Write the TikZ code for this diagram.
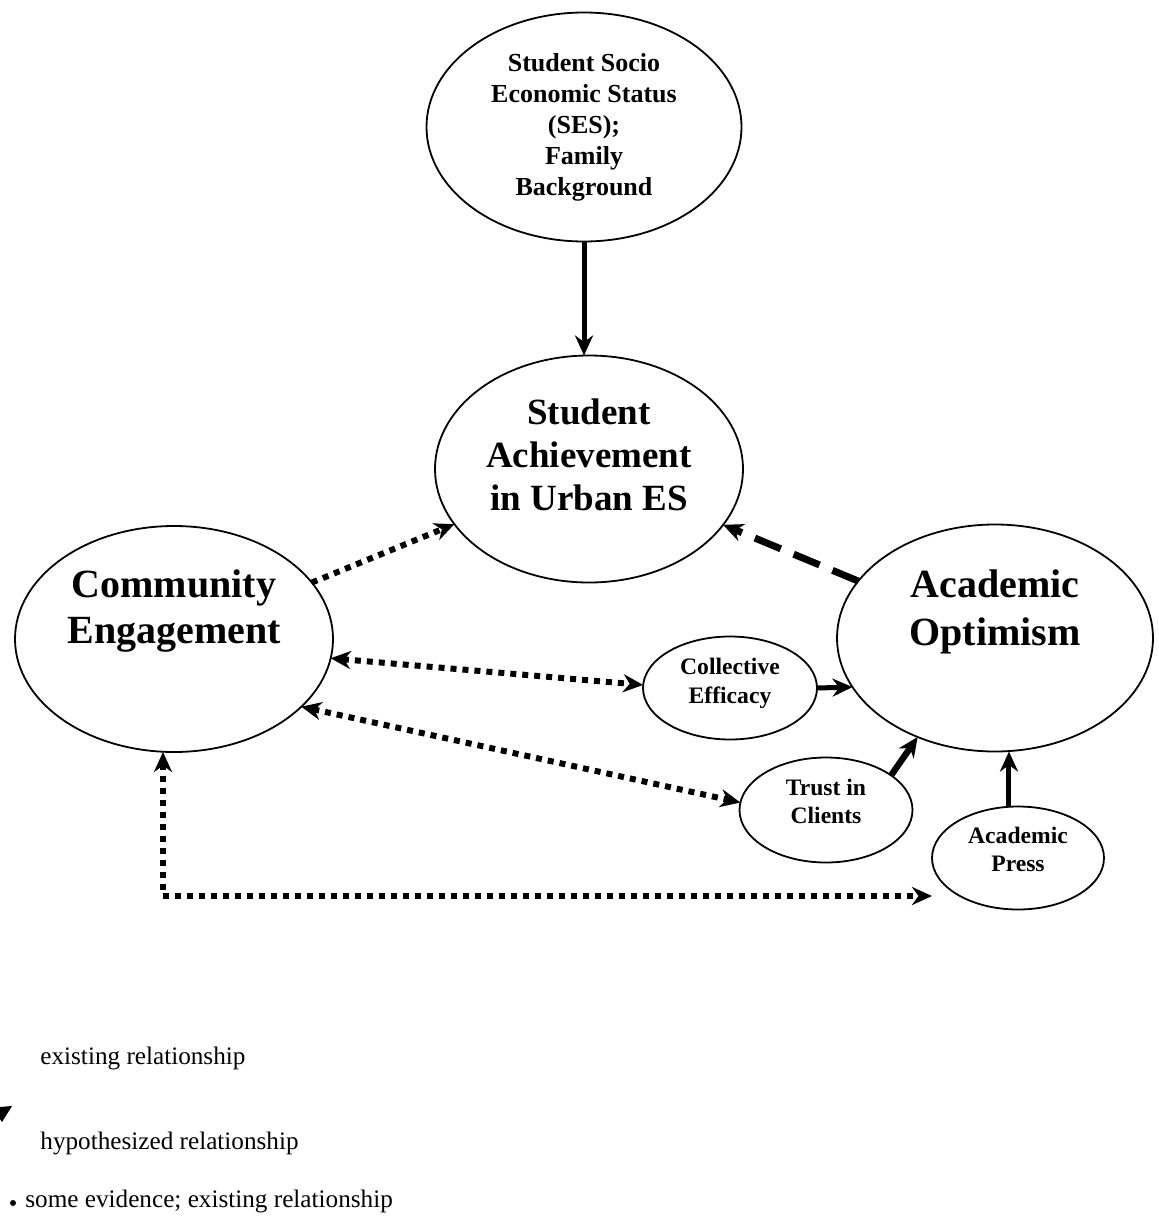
\documentclass[tikz,border=0pt]{standalone}
\usepackage{fontspec}
\setmainfont{Liberation Serif}
\usetikzlibrary{shapes.geometric,arrows.meta}
\tikzset{
  >={Stealth[length=10pt,width=9pt]},
  bubble/.style={ellipse,draw,line width=0.9pt,inner sep=0pt,outer sep=0pt,font=\bfseries},
  solidarrow/.style={->,line width=2.5pt},
  dotarrow/.style={line width=3pt,dash pattern=on 3pt off 3pt},
  dasharrow/.style={->,line width=3.5pt,dash pattern=on 14pt off 7pt},
}
\tikzstyle{legend}=[anchor=base west,inner sep=0pt,font=\fontsize{12.6}{14}\selectfont]
\newcommand{\liftup}[2]{\raisebox{#1}[\height][\depth]{\begin{tabular}{@{}c@{}}#2\end{tabular}}}
\begin{document}
\begin{tikzpicture}[x=0.5pt,y=-0.5pt]
  \useasboundingbox (0,0) rectangle (1158,1226);
  % the ellipses
  \node[bubble,minimum width=157.5pt,minimum height=114.5pt,
    font=\bfseries\fontsize{13}{15.5}\selectfont] (ses) at (584,127)
    {\liftup{0pt}{Student Socio\\Economic Status\\(SES);\\Family\\Background}};
  \node[bubble,minimum width=154pt,minimum height=113.5pt,
    font=\bfseries\fontsize{18.5}{21.5}\selectfont] (ach) at (589,469)
    {\liftup{5pt}{Student\\Achievement\\in Urban ES}};
  \node[bubble,minimum width=159pt,minimum height=113pt,
    font=\bfseries\fontsize{20}{23}\selectfont] (eng) at (174,639)
    {\liftup{14pt}{Community\\Engagement}};
  \node[bubble,minimum width=158pt,minimum height=113.5pt,
    font=\bfseries\fontsize{20}{24}\selectfont] (opt) at (995,638)
    {\liftup{13pt}{Academic\\Optimism}};
  \node[bubble,minimum width=87pt,minimum height=51.5pt,
    font=\bfseries\fontsize{11.8}{14.5}\selectfont] (coll) at (730,688)
    {\liftup{2.5pt}{Collective\\Efficacy}};
  \node[bubble,minimum width=86.5pt,minimum height=52.5pt,
    font=\bfseries\fontsize{11.8}{14}\selectfont] (trust) at (826,810)
    {\liftup{3.3pt}{Trust in\\Clients}};
  \node[bubble,minimum width=86pt,minimum height=51.5pt,
    font=\bfseries\fontsize{11.8}{14}\selectfont] (press) at (1018,858)
    {\liftup{3.3pt}{Academic\\Press}};

  % existing relationships
  \draw[solidarrow] (ses.south) -- (ses.south |- ach.north);
  \draw[solidarrow] (coll.east) -- (opt.199);
  \draw[solidarrow,line width=3.2pt] (trust.28) -- (opt.232);
  \draw[solidarrow] (press.100) -- (press.100 |- opt.south);

  % hypothesized relationship
  \draw[dasharrow] (opt) -- (ach);

  % some evidence
  \draw[dotarrow,->] (eng) -- (ach);
  \draw[dotarrow,<->] (eng.-7) -- (coll.178);
  \draw[dotarrow,<->] (eng.-28) -- (trust.175);
  \coordinate (corner) at (163,896);
  \draw[dotarrow,<->] (corner |- eng.south) -- (corner) -- (press.west |- corner);

  % legend
  \node[legend] (leg1) at (40,1064) {existing relationship};
  \node[legend] (leg2) at (40,1149) {hypothesized relationship};
  \node[legend] (leg3) at (25,1207) {some evidence; existing relationship};
  \fill (0,1107) -- (12,1106) -- (2,1122) -- (0,1119) -- cycle;
  \fill (13,1203) circle (3);
\end{tikzpicture}
\end{document}
